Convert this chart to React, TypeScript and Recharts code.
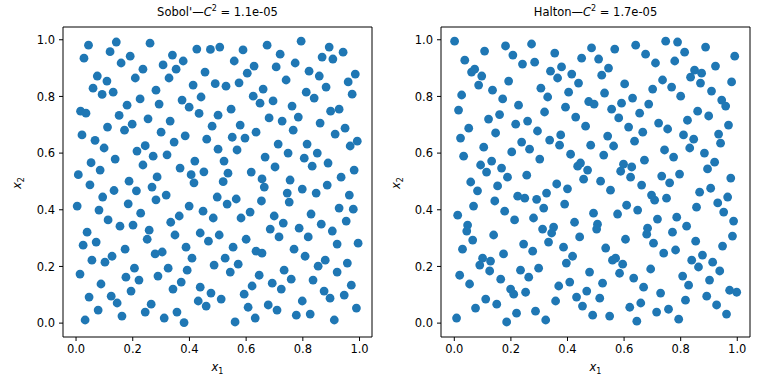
import { ScatterChart, Scatter, XAxis, YAxis, ReferenceLine } from "recharts";

// tick positions shared by both panels
const ticks = [0, 0.2, 0.4, 0.6, 0.8, 1.0];

// Sobol' points [x1, x2]
const sobolPts = [
  [0.044,0.981],[0.142,0.992],[0.261,0.988],[0.028,0.935],[0.120,0.958],[0.191,0.942],[0.159,0.918],[0.340,0.946],[0.426,0.967],[0.474,0.966],
  [0.307,0.911],[0.378,0.925],[0.353,0.896],[0.236,0.896],[0.209,0.865],[0.328,0.865],[0.075,0.872],[0.109,0.854],[0.060,0.829],[0.092,0.807],
  [0.131,0.815],[0.455,0.886],[0.491,0.845],[0.413,0.840],[0.282,0.822],[0.441,0.798],[0.374,0.787],[0.399,0.762],[0.226,0.791],[0.293,0.773],
  [0.180,0.769],[0.016,0.748],[0.035,0.741],[0.152,0.733],[0.254,0.721],[0.332,0.713],[0.434,0.740],[0.480,0.695],[0.111,0.692],[0.198,0.702],
  [0.171,0.681],[0.300,0.674],[0.385,0.661],[0.346,0.639],[0.461,0.649],[0.021,0.664],[0.067,0.645],[0.099,0.618],[0.244,0.626],[0.215,0.607],
  [0.272,0.589],[0.321,0.594],[0.138,0.579],[0.053,0.566],[0.085,0.540],[0.236,0.558],[0.419,0.572],[0.367,0.547],[0.451,0.534],[0.406,0.524],
  [0.008,0.524],[0.286,0.516],[0.187,0.501],[0.416,0.495],
  [0.507,0.974],[0.589,0.964],[0.674,0.981],[0.794,0.995],[0.720,0.949],[0.558,0.925],[0.628,0.907],[0.604,0.882],[0.706,0.904],[0.773,0.918],
  [0.893,0.974],[0.868,0.939],[0.906,0.932],[0.942,0.956],[0.822,0.889],[0.858,0.872],[0.741,0.858],[0.529,0.836],[0.575,0.848],[0.660,0.826],
  [0.625,0.801],[0.649,0.776],[0.695,0.784],[0.812,0.815],[0.840,0.794],[0.882,0.833],[0.985,0.879],[0.960,0.851],[0.974,0.808],[0.762,0.766],
  [0.547,0.755],[0.501,0.734],[0.681,0.724],[0.727,0.713],[0.784,0.727],[0.898,0.748],[0.928,0.755],[0.861,0.706],[0.949,0.688],[0.914,0.667],
  [0.766,0.681],[0.579,0.699],[0.551,0.656],[0.596,0.653],[0.635,0.674],[0.713,0.632],[0.815,0.632],[0.748,0.600],[0.805,0.582],[0.851,0.600],
  [0.833,0.554],[0.889,0.565],[0.992,0.642],[0.967,0.625],[0.501,0.614],[0.568,0.611],[0.667,0.586],[0.702,0.551],[0.522,0.572],[0.536,0.529],
  [0.618,0.533],[0.981,0.540],[0.935,0.515],[0.519,0.499],[0.656,0.509],[0.755,0.505],
  [0.049,0.488],[0.268,0.480],[0.134,0.468],[0.213,0.467],[0.094,0.445],[0.282,0.435],[0.318,0.452],[0.004,0.413],[0.184,0.421],[0.081,0.399],
  [0.228,0.388],[0.399,0.413],[0.448,0.395],[0.484,0.371],[0.113,0.364],[0.155,0.342],[0.201,0.346],[0.334,0.356],[0.364,0.378],[0.258,0.328],
  [0.251,0.296],[0.349,0.311],[0.438,0.318],[0.467,0.289],[0.039,0.321],[0.025,0.275],[0.071,0.286],[0.173,0.261],[0.279,0.244],[0.304,0.251],
  [0.388,0.268],[0.409,0.229],[0.056,0.222],[0.102,0.215],[0.127,0.236],[0.206,0.194],[0.176,0.162],[0.222,0.152],[0.289,0.166],[0.325,0.194],
  [0.392,0.187],[0.487,0.205],[0.014,0.173],[0.088,0.138],[0.194,0.113],[0.342,0.120],[0.371,0.145],[0.438,0.127],[0.476,0.106],[0.046,0.092],
  [0.124,0.095],[0.145,0.071],[0.431,0.078],[0.459,0.060],[0.078,0.046],[0.162,0.025],[0.244,0.039],[0.265,0.067],[0.311,0.018],[0.356,0.039],
  [0.381,0.002],[0.032,0.011],
  [0.664,0.480],[0.798,0.473],[0.886,0.487],[0.498,0.445],[0.533,0.420],[0.565,0.438],[0.654,0.431],[0.745,0.459],[0.752,0.427],[0.847,0.459],
  [0.964,0.452],[0.928,0.406],[0.978,0.402],[0.953,0.360],[0.829,0.385],[0.865,0.349],[0.904,0.325],[0.699,0.378],[0.731,0.353],[0.614,0.392],
  [0.582,0.371],[0.685,0.332],[0.716,0.304],[0.787,0.335],[0.819,0.304],[0.505,0.311],[0.600,0.296],[0.921,0.279],[0.995,0.282],[0.769,0.261],
  [0.808,0.236],[0.554,0.268],[0.635,0.254],[0.656,0.247],[0.526,0.229],[0.572,0.208],[0.544,0.180],[0.879,0.222],[0.854,0.201],[0.957,0.212],
  [0.921,0.180],[0.734,0.187],[0.836,0.152],[0.759,0.155],[0.646,0.169],[0.692,0.141],[0.621,0.131],[0.724,0.120],[0.971,0.134],[0.875,0.113],
  [0.896,0.088],[0.946,0.099],[0.512,0.085],[0.593,0.102],[0.798,0.078],[0.607,0.056],[0.678,0.064],[0.709,0.046],[0.777,0.028],[0.826,0.032],
  [0.632,0.018],[0.561,0.004],[0.911,0.011],[0.989,0.053],
];

// Halton points [x1, x2]
const haltonPts = [
  [0.001,0.995],[0.107,0.960],[0.181,0.978],[0.273,0.985],[0.207,0.946],[0.241,0.914],[0.284,0.921],[0.355,0.953],[0.037,0.928],[0.061,0.886],
  [0.072,0.896],[0.097,0.872],[0.086,0.840],[0.192,0.854],[0.135,0.822],[0.171,0.791],[0.227,0.769],[0.026,0.805],[0.015,0.752],[0.306,0.829],
  [0.330,0.798],[0.340,0.889],[0.365,0.865],[0.379,0.904],[0.415,0.879],[0.439,0.847],[0.404,0.815],[0.450,0.935],[0.485,0.971],[0.475,0.782],
  [0.494,0.773],[0.393,0.762],[0.319,0.745],[0.429,0.727],[0.464,0.695],[0.121,0.720],[0.160,0.736],[0.217,0.702],[0.259,0.713],[0.294,0.678],
  [0.051,0.688],[0.146,0.671],[0.022,0.653],[0.376,0.664],[0.337,0.646],[0.372,0.628],[0.482,0.628],[0.104,0.621],[0.238,0.639],[0.266,0.614],
  [0.203,0.604],[0.033,0.589],[0.302,0.579],[0.411,0.596],[0.132,0.572],[0.093,0.558],[0.167,0.547],[0.114,0.533],[0.256,0.522],[0.188,0.515],
  [0.436,0.554],[0.446,0.565],[0.471,0.540],[0.457,0.508],[0.058,0.498],
  [0.567,0.967],[0.641,0.981],[0.676,0.949],[0.711,0.918],[0.747,0.995],[0.789,0.992],[0.814,0.956],[0.779,0.925],[0.888,0.974],[0.991,0.942],
  [0.510,0.932],[0.545,0.900],[0.521,0.875],[0.602,0.844],[0.736,0.858],[0.768,0.833],[0.701,0.826],[0.800,0.801],[0.849,0.893],[0.835,0.868],
  [0.874,0.882],[0.870,0.847],[0.923,0.907],[0.980,0.851],[0.909,0.819],[0.945,0.787],[0.959,0.766],[0.531,0.812],[0.630,0.794],[0.591,0.776],
  [0.556,0.755],[0.687,0.773],[0.655,0.741],[0.581,0.724],[0.616,0.692],[0.666,0.674],[0.722,0.706],[0.754,0.685],[0.824,0.716],[0.860,0.748],
  [0.899,0.731],[0.969,0.699],[0.934,0.667],[0.941,0.635],[0.810,0.664],[0.846,0.649],[0.832,0.618],[0.542,0.660],[0.563,0.625],[0.637,0.642],
  [0.743,0.611],[0.775,0.586],[0.884,0.600],[0.528,0.593],[0.672,0.575],[0.598,0.561],[0.627,0.551],[0.588,0.536],[0.623,0.515],[0.920,0.568],
  [0.895,0.544],[0.733,0.519],[0.796,0.526],[0.977,0.512],[0.517,0.501],[0.761,0.495],
  [0.153,0.484],[0.362,0.491],[0.400,0.474],[0.082,0.467],[0.224,0.448],[0.249,0.441],[0.291,0.437],[0.326,0.459],[0.143,0.431],[0.068,0.413],
  [0.178,0.395],[0.316,0.406],[0.390,0.420],[0.012,0.381],[0.213,0.364],[0.280,0.371],[0.047,0.346],[0.044,0.325],[0.065,0.293],[0.139,0.311],
  [0.312,0.332],[0.351,0.339],[0.344,0.318],[0.333,0.286],[0.425,0.356],[0.443,0.304],[0.492,0.388],[0.245,0.279],[0.277,0.254],[0.029,0.261],
  [0.174,0.244],[0.386,0.268],[0.418,0.236],[0.396,0.212],[0.100,0.229],[0.128,0.219],[0.090,0.205],[0.125,0.184],[0.234,0.187],[0.263,0.162],
  [0.298,0.194],[0.478,0.180],[0.019,0.169],[0.054,0.138],[0.164,0.155],[0.199,0.120],[0.210,0.102],[0.252,0.109],[0.369,0.131],[0.408,0.145],
  [0.468,0.113],[0.432,0.092],[0.453,0.060],[0.489,0.028],[0.111,0.085],[0.150,0.067],[0.075,0.053],[0.358,0.078],[0.287,0.042],[0.220,0.035],
  [0.323,0.011],[0.185,0.004],[0.008,0.018],
  [0.662,0.487],[0.552,0.469],[0.697,0.452],[0.708,0.434],[0.750,0.441],[0.867,0.462],[0.906,0.476],[0.966,0.445],[0.931,0.424],[0.952,0.392],
  [0.856,0.409],[0.609,0.416],[0.648,0.399],[0.577,0.385],[0.506,0.349],[0.503,0.332],[0.718,0.367],[0.683,0.335],[0.680,0.314],[0.771,0.321],
  [0.786,0.374],[0.821,0.342],[0.987,0.360],[0.983,0.307],[0.853,0.289],[0.948,0.272],[0.605,0.296],[0.704,0.282],[0.535,0.265],[0.740,0.247],
  [0.782,0.258],[0.570,0.229],[0.559,0.222],[0.595,0.208],[0.584,0.176],[0.877,0.240],[0.839,0.222],[0.863,0.198],[0.913,0.215],[0.938,0.184],
  [0.694,0.191],[0.524,0.141],[0.634,0.159],[0.669,0.127],[0.807,0.166],[0.828,0.134],[0.902,0.152],[0.973,0.116],[0.998,0.109],[0.729,0.106],
  [0.892,0.095],[0.817,0.081],[0.514,0.088],[0.620,0.056],[0.659,0.071],[0.715,0.039],[0.757,0.049],[0.793,0.014],[0.927,0.064],[0.962,0.032],
  [0.549,0.025],[0.645,0.007],
];

const BLUE = "#1f77b4";
const FONT = "'DejaVu Sans', sans-serif";

const Dot = (p: any) => <circle cx={p.cx} cy={p.cy} r={4.4} fill={BLUE} />;

const fmt = (v: number) => v.toFixed(1);

const Panel = ({ pts, left, marginLeft, marginRight, xDomain }: any) => {
  const data = pts.map((p: number[]) => ({ x: p[0], y: p[1] }));
  const yDomain = [-0.049, 1.045];
  const tickStyle = { fill: "#000", fontSize: 11.5 };
  return (
    <div style={{ position: "absolute", left, top: 0 }}>
      <ScatterChart
        width={384}
        height={384}
        margin={{ top: 27, right: marginRight, bottom: 17, left: marginLeft }}
      >
        <XAxis
          type="number"
          dataKey="x"
          domain={xDomain}
          allowDataOverflow
          ticks={ticks}
          tickFormatter={fmt}
          tick={tickStyle}
          tickSize={4}
          tickMargin={4}
          height={30}
          stroke="#000"
        />
        <YAxis
          type="number"
          dataKey="y"
          domain={yDomain}
          allowDataOverflow
          ticks={ticks}
          tickFormatter={fmt}
          tick={tickStyle}
          tickSize={4}
          tickMargin={4}
          width={40}
          stroke="#000"
        />
        {/* top and right spines */}
        <ReferenceLine y={yDomain[1]} stroke="#000" strokeWidth={1} />
        <ReferenceLine x={xDomain[1]} stroke="#000" strokeWidth={1} />
        <Scatter data={data} shape={Dot} isAnimationActive={false} />
      </ScatterChart>
    </div>
  );
};

const sub = { fontSize: 8, position: "relative" as const, top: 3 };
const sup = { fontSize: 8, position: "relative" as const, top: -5 };

const Title = ({ name, value, left }: any) => (
  <div
    style={{
      position: "absolute",
      left,
      top: 4,
      width: 309,
      textAlign: "center",
      fontSize: 11.5,
      lineHeight: "16px",
    }}
  >
    {name}—<i>C</i>
    <span style={sup}>2</span> = {value}
  </div>
);

const XLabel = ({ left }: any) => (
  <div
    style={{
      position: "absolute",
      left,
      top: 359,
      width: 309,
      textAlign: "center",
      fontSize: 11.5,
      lineHeight: "16px",
    }}
  >
    <i>x</i>
    <span style={sub}>1</span>
  </div>
);

const YLabel = ({ cx }: any) => (
  <div
    style={{
      position: "absolute",
      left: cx - 20,
      top: 174,
      width: 40,
      textAlign: "center",
      fontSize: 11.5,
      lineHeight: "16px",
      transform: "rotate(-90deg)",
    }}
  >
    <i>x</i>
    <span style={sub}>2</span>
  </div>
);

export default function App() {
  return (
    <div
      style={{
        position: "absolute",
        left: 0,
        top: 0,
        width: 768,
        height: 384,
        background: "#fff",
        fontFamily: FONT,
        color: "#000",
      }}
    >
      <Panel pts={sobolPts} left={0} marginLeft={23} marginRight={12} xDomain={[-0.046, 1.044]} />
      <Panel pts={haltonPts} left={384} marginLeft={17} marginRight={18} xDomain={[-0.047, 1.045]} />
      <Title name="Sobol'" value="1.1e-05" left={63} />
      <Title name="Halton" value="1.7e-05" left={441} />
      <XLabel left={63} />
      <XLabel left={441} />
      <YLabel cx={18} />
      <YLabel cx={397} />
    </div>
  );
}
